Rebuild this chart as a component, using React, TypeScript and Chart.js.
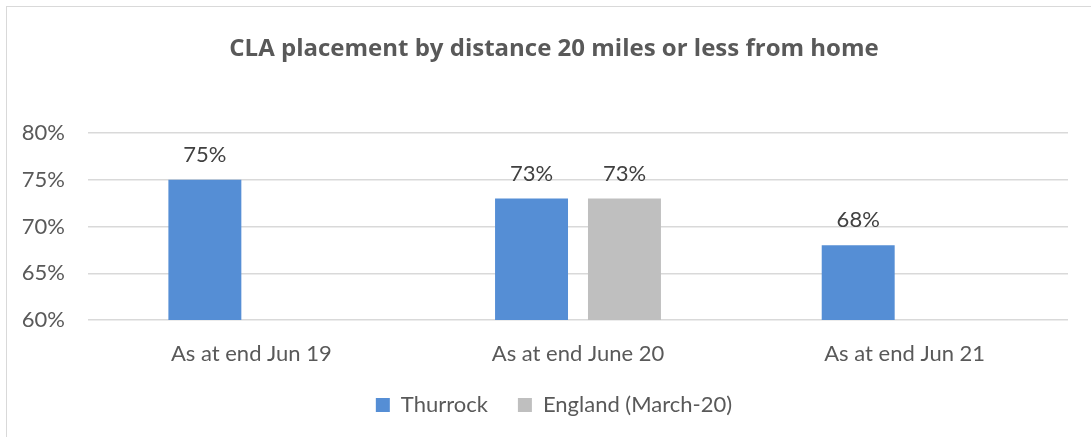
import React, { useEffect, useRef } from "react";
import { Chart, registerables } from "chart.js";

Chart.register(...registerables);

// Chart data
const categories = ["As at end Jun 19", "As at end June 20", "As at end Jun 21"];
const thurrockValues: (number | null)[] = [75, 73, 68];
const englandValues: (number | null)[] = [null, 73, null];
const yMin = 60;
const yMax = 80;
const yStep = 5;

const FONT = "Lato, 'Open Sans', sans-serif";
const TITLE_FONT = "'Open Sans', Lato, sans-serif";
const TEXT = "#595959";
const GRID = "#d9d9d9";
const BLUE = "#558ed5";
const GREY = "#bfbfbf";

// Writes each bar's value above it, using the bar element's own position
const valueLabels = {
  id: "valueLabels",
  afterDatasetsDraw(chart: any) {
    const ctx = chart.ctx;
    ctx.save();
    ctx.font = `22px ${FONT}`;
    ctx.fillStyle = "#404040";
    ctx.textAlign = "center";
    ctx.textBaseline = "middle";
    chart.data.datasets.forEach((ds: any, i: number) => {
      const meta = chart.getDatasetMeta(i);
      meta.data.forEach((el: any, j: number) => {
        const v = ds.data[j];
        if (v == null) return;
        ctx.fillText(`${v}%`, el.x, el.y - 25);
      });
    });
    ctx.restore();
  },
};

export default function App() {
  const canvasRef = useRef<HTMLCanvasElement | null>(null);

  useEffect(() => {
    if (!canvasRef.current) return;
    const chart = new Chart(canvasRef.current, {
      type: "bar",
      data: {
        labels: categories,
        datasets: [
          {
            label: "Thurrock",
            data: thurrockValues,
            backgroundColor: BLUE,
            categoryPercentage: 0.569,
            barPercentage: 0.785,
          },
          {
            label: "England (March-20)",
            data: englandValues,
            backgroundColor: GREY,
            categoryPercentage: 0.569,
            barPercentage: 0.785,
          },
        ],
      },
      options: {
        responsive: false,
        animation: false,
        layout: { padding: { left: 0, right: 0, top: 0, bottom: 11 } },
        plugins: {
          title: {
            display: true,
            text: "CLA placement by distance 20 miles or less from home",
            color: TEXT,
            font: { family: TITLE_FONT, size: 24, weight: "bold" },
            padding: { top: 34.8, bottom: 69.4 },
          },
          legend: {
            position: "bottom",
            labels: {
              color: TEXT,
              font: { family: FONT, size: 22 },
              boxWidth: 14,
              boxHeight: 14,
              padding: 30,
            },
          },
          tooltip: { enabled: false },
        },
        scales: {
          x: {
            grid: { display: false },
            border: { display: false },
            ticks: { color: TEXT, font: { family: FONT, size: 22 }, padding: 12.8 },
            afterFit: (s: any) => {
              s.height = 44;
            },
          },
          y: {
            min: yMin,
            max: yMax,
            grid: { color: GRID, lineWidth: 1.5, drawTicks: false },
            border: { display: false },
            ticks: {
              stepSize: yStep,
              color: TEXT,
              font: { family: FONT, size: 22 },
              padding: 23,
              callback: (v: any) => `${v}%`,
            },
            afterFit: (s: any) => {
              s.width = 88;
            },
          },
          // empty right-hand margin axis, keeps the plot clear of the right edge
          yRight: {
            position: "right",
            grid: { display: false },
            border: { display: false },
            ticks: { display: false },
            afterFit: (s: any) => {
              s.width = 40;
            },
          },
        },
      },
      plugins: [valueLabels],
    });
    return () => chart.destroy();
  }, []);

  return (
    <div
      style={{
        position: "fixed",
        left: 0,
        top: 0,
        width: 1091,
        height: 437,
        overflow: "hidden",
        background: "#ffffff",
      }}
    >
      <div
        style={{
          position: "absolute",
          left: 6,
          top: 6,
          width: 1100,
          height: 460,
          border: `1px solid ${GRID}`,
        }}
      />
      <canvas
        ref={canvasRef}
        width={1108}
        height={437}
        style={{ position: "absolute", left: 0, top: 0 }}
      />
    </div>
  );
}
